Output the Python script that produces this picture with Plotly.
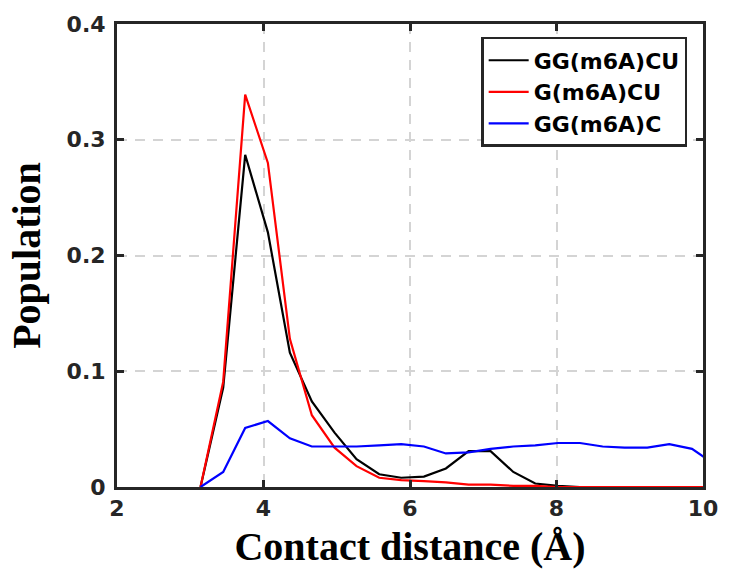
import plotly.graph_objects as go

# Bin centres (Å)
distance = [3.14, 3.45, 3.75, 4.06, 4.36, 4.66, 4.97, 5.27, 5.58, 5.88, 6.19, 6.49,
            6.80, 7.10, 7.41, 7.71, 8.02, 8.32, 8.63, 8.93, 9.24, 9.54, 9.85, 10.15]

pop_ggm6acu = [0.0, 0.086, 0.287, 0.220, 0.116, 0.074, 0.047, 0.024, 0.011, 0.008, 0.009, 0.016,
               0.031, 0.031, 0.013, 0.003, 0.001, 0.0, 0.0, 0.0, 0.0, 0.0, 0.0, 0.0]
pop_gm6acu = [0.0, 0.091, 0.339, 0.280, 0.128, 0.062, 0.034, 0.018, 0.008, 0.006, 0.005, 0.004,
              0.002, 0.002, 0.001, 0.001, 0.0, 0.0, 0.0, 0.0, 0.0, 0.0, 0.0, 0.0]
pop_ggm6ac = [0.0, 0.013, 0.051, 0.057, 0.042, 0.035, 0.035, 0.035, 0.036, 0.037, 0.035, 0.029,
              0.030, 0.033, 0.035, 0.036, 0.038, 0.038, 0.035, 0.034, 0.034, 0.037, 0.033, 0.020]

series_names = ["GG(m6A)CU", "G(m6A)CU", "GG(m6A)C"]
series_colors = ["#000000", "#ff0000", "#0000ff"]
series_values = [pop_ggm6acu, pop_gm6acu, pop_ggm6ac]

x_ticks = [2, 4, 6, 8, 10]
y_ticks = [0, 0.1, 0.2, 0.3, 0.4]
y_tick_labels = ["0", "0.1", "0.2", "0.3", "0.4"]

fig = go.Figure()
for name, color, vals in zip(series_names, series_colors, series_values):
    fig.add_trace(go.Scatter(x=distance, y=vals, mode="lines", name=name,
                             line=dict(color=color, width=2.2)))

tick_font = dict(family="DejaVu Sans", size=22, color="#262626", weight="bold")
axis_common = dict(
    showline=True, linewidth=3, linecolor="#262626", mirror="allticks",
    ticks="inside", ticklen=7, tickwidth=2.5, tickcolor="#262626",
    showgrid=True, gridcolor="#d4d4d4", gridwidth=2, griddash="10px,8px",
    zeroline=False, tickfont=tick_font,
)

title_font = dict(family="Liberation Serif", size=40, color="#000000", weight="bold")
fig.update_xaxes(range=[2, 10], tickvals=x_ticks, **axis_common,
                 title=dict(text="Contact distance (Å)", standoff=12, font=title_font))
fig.update_yaxes(range=[0, 0.4], tickvals=y_ticks, ticktext=y_tick_labels, **axis_common,
                 ticklabelstandoff=4,
                 title=dict(text="Population", standoff=14, font=title_font))

fig.update_layout(
    width=730, height=579,
    margin=dict(l=117, r=21, t=24, b=92),
    paper_bgcolor="white", plot_bgcolor="white",
    legend=dict(x=0.973, y=0.972, xanchor="right", yanchor="top",
                bgcolor="white", bordercolor="#262626", borderwidth=2.5,
                font=dict(family="DejaVu Sans", size=22, color="#000000", weight="bold"),
                tracegroupgap=0, itemwidth=40),
    showlegend=True,
)

fig.write_html("out.html")
